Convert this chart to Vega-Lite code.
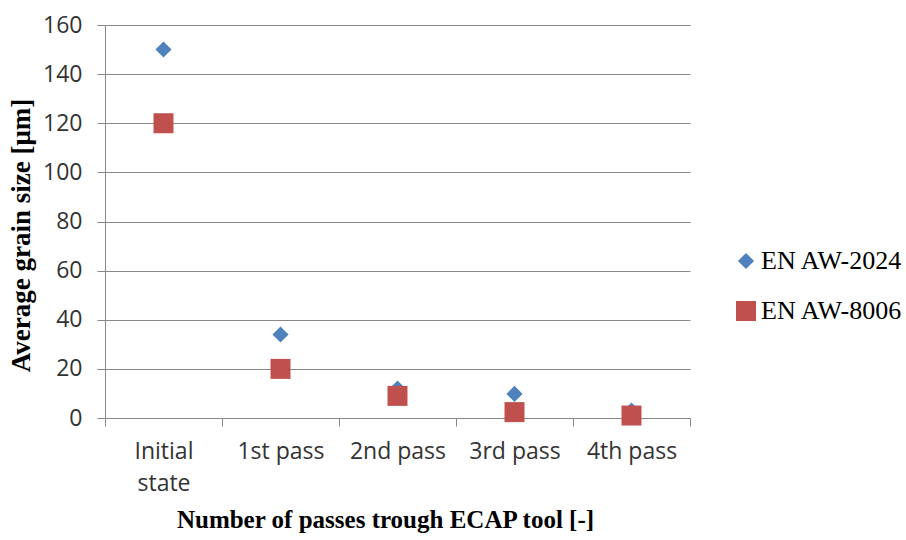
{
  "$schema": "https://vega.github.io/schema/vega-lite/v6.json",
  "autosize": "none",
  "width": 585,
  "height": 393,
  "padding": {"left": 105, "top": 25, "right": 216, "bottom": 122},
  "background": "white",
  "data": {"values": [
    {"stage": "Initial state", "alloy": "EN AW-2024", "size": 150},
    {"stage": "1st pass", "alloy": "EN AW-2024", "size": 34},
    {"stage": "2nd pass", "alloy": "EN AW-2024", "size": 12},
    {"stage": "3rd pass", "alloy": "EN AW-2024", "size": 9.8},
    {"stage": "4th pass", "alloy": "EN AW-2024", "size": 3},
    {"stage": "Initial state", "alloy": "EN AW-8006", "size": 120},
    {"stage": "1st pass", "alloy": "EN AW-8006", "size": 20},
    {"stage": "2nd pass", "alloy": "EN AW-8006", "size": 9},
    {"stage": "3rd pass", "alloy": "EN AW-8006", "size": 2.4},
    {"stage": "4th pass", "alloy": "EN AW-8006", "size": 1}
  ]},
  "mark": {"type": "point", "filled": true, "opacity": 1},
  "encoding": {
    "x": {
      "field": "stage", "type": "nominal",
      "sort": ["Initial state", "1st pass", "2nd pass", "3rd pass", "4th pass"],
      "scale": {"paddingInner": 0, "paddingOuter": 0},
      "axis": {
        "title": "Number of passes trough ECAP tool [-]",
        "titleFont": "Liberation Serif", "titleFontSize": 25, "titleFontWeight": "bold", "titleColor": "black",
        "titlePadding": 12, "titleX": 280,
        "labelAngle": 0, "labelFont": "Open Sans", "labelFontSize": 23, "labelColor": "#333",
        "labelExpr": "datum.label == 'Initial state' ? ['Initial', 'state'] : datum.label",
        "labelLineHeight": 32, "labelPadding": 14,
        "tickBand": "extent", "tickSize": 8, "tickColor": "#888", "domainColor": "#888",
        "grid": false
      }
    },
    "y": {
      "field": "size", "type": "quantitative",
      "scale": {"domain": [0, 160], "nice": false},
      "axis": {
        "title": "Average grain size [μm]",
        "titleFont": "Liberation Serif", "titleFontSize": 27, "titleFontWeight": "bold", "titleColor": "black",
        "titlePadding": 7, "titleY": 210,
        "values": [0, 20, 40, 60, 80, 100, 120, 140, 160],
        "labelFont": "Open Sans", "labelFontSize": 23, "labelColor": "#333", "labelPadding": 15,
        "tickSize": 8, "tickColor": "#888", "domainColor": "#888",
        "grid": true, "gridColor": "#888", "gridWidth": 1
      }
    },
    "color": {
      "field": "alloy", "type": "nominal",
      "scale": {"domain": ["EN AW-2024", "EN AW-8006"], "range": ["#4f81bd", "#c0504d"]},
      "legend": {
        "title": null, "orient": "none", "legendX": 628, "legendY": 223,
        "labelFont": "Liberation Serif", "labelFontSize": 26, "labelColor": "black",
        "symbolSize": 260, "rowPadding": 24, "labelOffset": 2, "symbolOpacity": 1
      }
    },
    "shape": {
      "field": "alloy", "type": "nominal",
      "scale": {"domain": ["EN AW-2024", "EN AW-8006"], "range": ["diamond", "square"]},
      "legend": null
    },
    "size": {
      "field": "alloy", "type": "nominal",
      "scale": {"domain": ["EN AW-2024", "EN AW-8006"], "range": [260, 400]},
      "legend": null
    }
  },
  "config": {"view": {"stroke": null}}
}
